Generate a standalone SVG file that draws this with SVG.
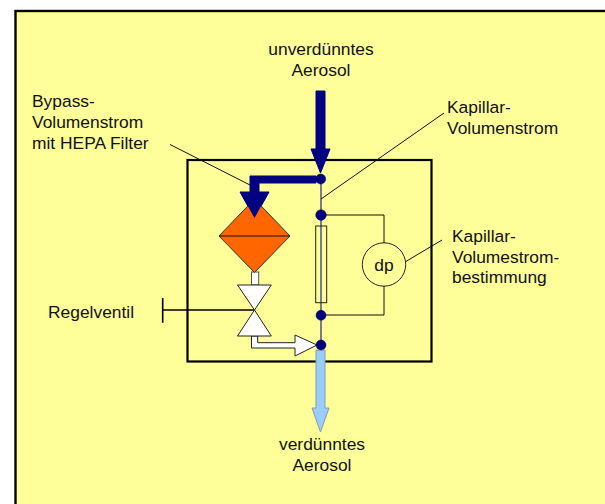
<svg xmlns="http://www.w3.org/2000/svg" width="605" height="504" viewBox="0 0 605 504">
<style>
text{font-family:"Liberation Sans",Arial,sans-serif;font-size:17.4px;fill:#111}
.thin{fill:none;stroke:#111;stroke-width:1}
.dot{fill:#000080;stroke:#000050;stroke-width:.5}
</style>
<rect width="605" height="504" fill="#fff"/>
<rect id="background" x="15.500" y="11" width="620" height="520" fill="#FFFF99" stroke="#000" stroke-width="2.400"/>
<rect id="housing" x="187.500" y="160" width="244" height="201.500" fill="none" stroke="#000" stroke-width="2.200"/>
<g id="connectors">
<line x1="321" y1="179" x2="321" y2="345" stroke="#4a4f9a" stroke-width="1.500"/>
<path class="thin" d="M321 215H384V243M384 286V315H321"/>
<path class="thin" d="M170 144.500L250 185M321 199L444 113M405 262L442 240"/>
<path d="M162.700 298V322.700M162.700 310H254" fill="none" stroke="#000" stroke-width="1.600"/>
<path id="inflow" d="M316 91H325V149H330L320.500 173L311 149H316Z" fill="#000080" stroke="#000080"/>
<path id="bypass-flow" d="M316 176H250V192H240L254.500 218L269 192H259V183H316Z" fill="#000080" stroke="#000080"/>
<path id="outflow" d="M316 350H325V408H329L320.500 432L312 408H316Z" fill="#99CCFF" stroke="#8a9aa8"/>
<path id="valve-flow" d="M251.500 336V348H295V356L317 345L295 335V342.700H257.700V336Z" fill="#fff" stroke="#222"/>
<rect x="251.500" y="272" width="7.200" height="13" fill="#fff" stroke="#555"/>
</g>
<g id="filter">
<path d="M254.500 199L290 236L254.500 272.500L219 236Z" fill="#FF6600" stroke="#333"/>
<line x1="219" y1="236" x2="290" y2="236" stroke="#111" stroke-width="1.200"/>
<path d="M240 192H269L254.500 218Z" fill="#000080"/>
</g>
<g id="valve">
<path d="M237.500 285H271.300L254.500 310L271.300 336H237.500L254.500 310Z" fill="#fff" stroke="#222"/>
</g>
<g id="capillary">
<rect x="315.700" y="226" width="11" height="76.700" fill="none" stroke="#222"/>
</g>
<g id="dp">
<circle cx="384" cy="264.500" r="21.700" fill="none" stroke="#222"/>
<text x="384" y="270.500" text-anchor="middle">dp</text>
</g>
<g id="junctions">
<circle class="dot" cx="320.700" cy="179" r="5"/>
<circle class="dot" cx="321" cy="215" r="5.300"/>
<circle class="dot" cx="321" cy="315.300" r="5"/>
<circle class="dot" cx="321" cy="345" r="5"/>
</g>
<g id="labels">
<text x="321" y="55" text-anchor="middle">unverdünntes</text>
<text x="321" y="76" text-anchor="middle">Aerosol</text>
<text x="32" y="106.500">Bypass-</text>
<text x="32" y="127.500">Volumenstrom</text>
<text x="32" y="148.500">mit HEPA Filter</text>
<text x="447" y="112.500">Kapillar-</text>
<text x="447" y="133.500">Volumenstrom</text>
<text x="452" y="241.500">Kapillar-</text>
<text x="452" y="262.500">Volumestrom-</text>
<text x="452" y="283">bestimmung</text>
<text x="48" y="317.500">Regelventil</text>
<text x="322" y="450" text-anchor="middle">verdünntes</text>
<text x="322" y="470.500" text-anchor="middle">Aerosol</text>
</g>
</svg>
